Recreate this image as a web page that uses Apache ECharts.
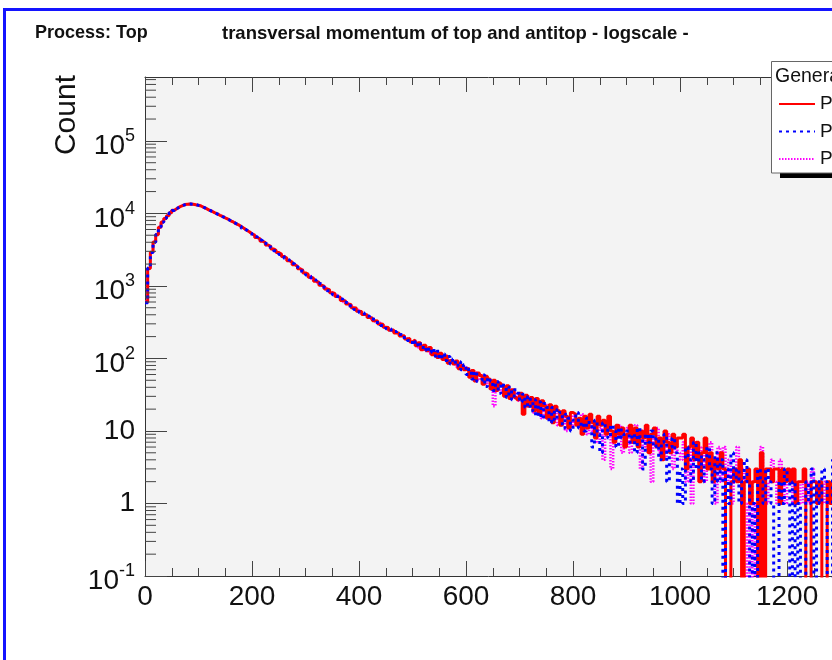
<!DOCTYPE html>
<html><head><meta charset="utf-8">
<script src="https://cdn.jsdelivr.net/npm/echarts@6/dist/echarts.min.js"></script>
<style>html,body{margin:0;padding:0;background:#fff;overflow:hidden}#c{width:832px;height:660px}</style>
</head><body><div id="c"></div>
<script>
// ---- data (5 GeV bins starting at 0) ----
const binWidth = 5;
const seriesNames = ['Pythia 6', 'Pythia 8', 'Powheg'];
const red = [
598,1742,2915,4021,5088,6440,7580,8530,9310,10180,11040,11690,12330,12760,13240,13380,13520,13410,13180,12960,
12650,12080,11640,11110,10720,10230,9870,9410,9080,8660,8350,7910,7620,7210,6950,6560,6250,5870,5590,5250,
5010,4660,4450,4130,3950,3670,3510,3240,3100,2880,2750,2540,2420,2230,2130,1960,1870,1720,1650,1510,
1450,1320,1280,1160,1130,1020,995,905,885,805,785,712,698,630,620,561,553,500,496,448,
445,405,402,366,362,330,328,298,296,270,268,245,246,224,225,204,206,186,188,169,
180,150,165,132,152,128,141,112,121,103,118,97,108,86,94,84,92,72,80,70,
74,55,68,49,63,58,44,57,52,38,50,36,46,43,30,42,28,37,29,27,
33,17,31,22,29,19,28,17,26,22,15,23,13,22,19,12,19,16,11,18,
17,12,15,9,16,11,17,13,8,16,12,14,9,16,10,7,12,9,11,6,
9,12,7,11,6,10,8,12,5,9,11,6,8,4,10,7,5,9,6,8,
8,9,3,6,8,4,7,2,5,8,3,5,2,4,3,5,
3,0,0,2,3,2,4,0,2,3,1,2,3,0,5,0,3,3,2,3,3,1,3,2,3,2,3,1,2,2,3,0,0,2,2,1,2,0,0,2,1,2,3,1
];
const blue = [
585,1760,2890,3985,5130,6480,7550,8490,9350,10230,10960,11740,12280,12830,13170,13450,13470,13380,13230,12900,
12590,12140,11580,11170,10660,10290,9810,9470,9030,8720,8290,7970,7560,7270,6890,6610,6190,5910,5550,5290,
4950,4720,4390,4190,3890,3720,3450,3300,3060,2920,2710,2580,2380,2270,2090,2000,1830,1760,1610,1550,
1410,1360,1240,1200,1090,1060,965,935,855,835,758,740,670,658,595,585,531,525,474,470,
428,422,386,381,349,346,314,312,284,282,257,257,234,235,213,214,194,196,177,179,
155,172,146,160,128,143,121,136,108,126,99,116,94,106,84,98,79,90,70,82,
60,71,52,66,48,50,59,41,54,49,36,48,33,45,41,29,40,27,37,33,
25,32,21,30,19,27,16,25,15,24,21,13,21,14,20,18,11,17,15,10,
14,18,11,13,10,15,12,6,14,9,5,13,11,8,12,10,6,11,8,9,
10,7,9,5,11,8,3,9,7,10,6,8,4,7,9,2,6,8,5,1,
3,1,6,4,2,7,3,5,2,4,6,3,1,5,2,4,
0,3,1,5,2,3,1,2,4,2,0,1,0,3,2,1,3,2,1,0,0,2,1,3,2,0,2,0,1,0,0,2,1,3,0,2,1,3,2,0,0,4,1,2
];
const magenta = [
610,1735,2905,4010,5105,6420,7610,8510,9290,10210,11010,11710,12300,12790,13210,13410,13490,13440,13200,12930,
12610,12100,11620,11150,10700,10250,9850,9430,9070,8680,8330,7930,7600,7230,6910,6590,6230,5880,5580,5260,
4990,4680,4430,4150,3930,3680,3490,3260,3090,2890,2740,2550,2410,2240,2120,1970,1860,1730,1640,1520,
1425,1345,1255,1185,1105,1045,975,925,865,825,766,731,679,649,602,578,537,518,480,464,
440,410,390,378,352,341,318,308,286,279,261,248,243,226,221,207,202,188,184,171,
170,162,141,152,133,140,118,128,115,117,103,108,95,99,87,91,77,84,73,77,
70,61,56,64,50,58,47,45,50,37,22,43,38,34,40,32,37,28,34,26,
28,26,22,30,23,18,27,20,15,24,17,22,15,20,12,17,16,10,16,12,
16,13,12,17,11,9,14,10,12,7,11,4,13,9,3,10,8,12,5,7,
11,5,8,12,7,3,10,6,9,2,8,11,5,7,4,9,6,3,7,5,
4,7,2,6,1,7,5,3,6,2,4,7,3,1,6,2,
6,2,4,1,3,6,2,3,1,0,2,0,1,0,6,3,1,2,4,2,1,4,2,1,2,3,1,2,1,2,1,2,1,3,2,1,2,1,2,1,2,1,2,1
];
const xMin = 0, xMax = 1284, xInterval = 200;
const yMin = 0.1, yMax = 760000;
const yMinorMultipliers = [2, 3, 4, 5, 6, 7, 8, 9];
const yDecades = [-1, 0, 1, 2, 3, 4, 5];

const FONT = "'Liberation Sans', Arial, Helvetica, sans-serif";
const TXT = '#111';

function histData(vals) {
  const d = vals.map((v, i) => [i * binWidth, v > 0 ? v : 1e-4]);
  d.push([vals.length * binWidth, vals[vals.length - 1] > 0 ? vals[vals.length - 1] : 1e-4]);
  return d;
}
const minorTickValues = [];
yDecades.forEach(k => yMinorMultipliers.forEach(m => {
  const v = m * Math.pow(10, k);
  if (v < yMax) minorTickValues.push([0, v]);
}));

const chart = echarts.init(document.getElementById('c'), null, {renderer: 'canvas'});
const axisCommon = {
  type: 'value', min: xMin, max: xMax, interval: xInterval,
  axisLine: {show: true, lineStyle: {color: '#333', width: 1}},
  axisTick: {show: true, inside: true, length: 15, lineStyle: {color: '#444'}},
  minorTick: {show: true, splitNumber: 4, length: 8, lineStyle: {color: '#444'}},
  splitLine: {show: false}, minorSplitLine: {show: false}
};
chart.setOption({
  animation: false,
  backgroundColor: '#fff',
  title: [
    {text: 'Process: Top', left: 35, top: 24, padding: 0, textStyle: {fontFamily: FONT, fontSize: 18, fontWeight: 'bold', color: TXT}},
    {text: 'transversal momentum of top and antitop - logscale -', left: 222, top: 24, padding: 0, textStyle: {fontFamily: FONT, fontSize: 18.5, fontWeight: 'bold', color: TXT}}
  ],
  grid: {left: 145, top: 77, width: 687, height: 499, show: true, backgroundColor: '#f3f3f3', borderWidth: 0, containLabel: false},
  legend: {
    data: [seriesNames[0], seriesNames[1], seriesNames[2]],
    orient: 'vertical', left: 778, top: 94.5, padding: 0,
    itemWidth: 36, itemHeight: 14, itemGap: 8.5, selectedMode: false, z: 8,
    itemStyle: {opacity: 0},
    textStyle: {fontFamily: FONT, fontSize: 19, color: TXT}
  },
  xAxis: [
    Object.assign({}, axisCommon, {position: 'bottom',
      axisLabel: {show: true, margin: 7, fontFamily: FONT, fontSize: 28, color: TXT, showMaxLabel: false, formatter: v => String(v)}}),
    Object.assign({}, axisCommon, {position: 'top', axisLabel: {show: false}})
  ],
  yAxis: {
    type: 'log', logBase: 10, min: yMin, max: yMax,
    axisLine: {show: true, lineStyle: {color: '#333', width: 1}},
    axisTick: {show: true, inside: true, length: 22, lineStyle: {color: '#444'}},
    splitLine: {show: false},
    axisLabel: {
      show: true, margin: 10, fontFamily: FONT, fontSize: 28, color: TXT, showMaxLabel: false,
      formatter: v => {
        const k = Math.round(Math.log10(v));
        if (k === 0) return '1';
        if (k === 1) return '10';
        return '{b|10}{s|' + k + '}';
      },
      rich: {
        b: {fontFamily: FONT, fontSize: 28, color: TXT, verticalAlign: 'bottom', padding: [11, 0, 0, 0]},
        s: {fontFamily: FONT, fontSize: 18, color: TXT, verticalAlign: 'top', padding: [6, 0, 0, 0]}
      }
    }
  },
  series: [
    {name: seriesNames[2], type: 'line', step: 'end', symbol: 'none', data: histData(magenta),
     lineStyle: {color: '#ff00ff', width: 2.5, type: [1.5, 1.5]}, itemStyle: {color: '#ff00ff'}, z: 2},
    {name: seriesNames[0], type: 'line', step: 'end', symbol: 'none', data: histData(red),
     lineStyle: {color: '#ff0000', width: 3, type: 'solid'}, itemStyle: {color: '#ff0000'}, z: 3},
    {name: seriesNames[1], type: 'line', step: 'end', symbol: 'none', data: histData(blue),
     lineStyle: {color: '#0000ff', width: 3, type: [3, 4]}, itemStyle: {color: '#0000ff'}, z: 4},
    {name: 'minorTicks', type: 'custom', data: minorTickValues, silent: true, z: 5,
     renderItem: (params, api) => {
       const p = api.coord([api.value(0), api.value(1)]);
       return {type: 'line', shape: {x1: p[0], y1: p[1], x2: p[0] + 11, y2: p[1]}, style: {stroke: '#444', lineWidth: 1}};
     }}
  ],
  graphic: [
    {type: 'text', left: 52, top: 75, rotation: Math.PI / 2, z: 10,
     style: {text: 'Count', fontFamily: FONT, fontSize: 30, fill: TXT}},
    {type: 'rect', z: 6, shape: {x: 780, y: 66, width: 200, height: 112}, style: {fill: '#000'}},
    {type: 'rect', z: 7, shape: {x: 771.5, y: 61.5, width: 200, height: 111.5}, style: {fill: '#fff', stroke: '#666', lineWidth: 1}},
    {type: 'text', z: 9, x: 775, y: 77, style: {text: 'Generator', fontFamily: FONT, fontSize: 19.5, fill: TXT, verticalAlign: 'middle'}},
    {type: 'polyline', z: 20, shape: {points: [[4.5, 662], [4.5, 9.5], [840, 9.5]]}, style: {stroke: '#1414ff', lineWidth: 3, fill: null}}
  ]
});
</script></body></html>
